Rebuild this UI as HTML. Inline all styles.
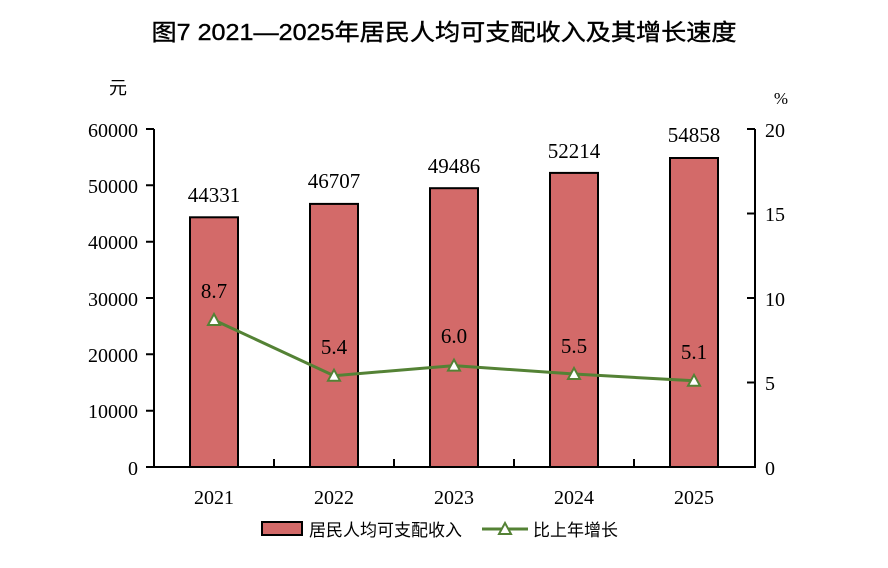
<!DOCTYPE html>
<html><head><meta charset="utf-8"><style>
body{margin:0;background:#fff}
svg text{font-family:"Liberation Serif","Noto Serif CJK SC",serif;fill:#000}
</style></head><body>
<svg width="888" height="563" xmlns="http://www.w3.org/2000/svg">
<text x="444" y="40" text-anchor="middle" font-size="23" textLength="585" lengthAdjust="spacingAndGlyphs" style="font-family:'Liberation Sans','Noto Sans CJK SC',sans-serif;stroke:#000;stroke-width:0.4">图7  2021—2025年居民人均可支配收入及其增长速度</text>
<text x="118" y="94" text-anchor="middle" font-size="18" style="font-family:'Liberation Sans','Noto Sans CJK SC',sans-serif">元</text>
<text x="781" y="104" text-anchor="middle" font-size="17">%</text>
<g fill="#d36a69" stroke="#000" stroke-width="2">
<rect x="190" y="217.3" width="48" height="249.7"/>
<rect x="310" y="203.9" width="48" height="263.1"/>
<rect x="430" y="188.2" width="48" height="278.8"/>
<rect x="550" y="172.9" width="48" height="294.1"/>
<rect x="670" y="158" width="48" height="309"/>
</g>
<g stroke="#000" stroke-width="2" fill="none">
<path d="M154 129V467H755V129"/>
<path d="M146 129H154M146 185.3H154M146 241.7H154M146 298H154M146 354.3H154M146 410.7H154M146 467H154"/>
<path d="M747 129H755M747 213.5H755M747 298H755M747 382.5H755M747 467H755"/>
<path d="M274 467V459M394 467V459M514 467V459M634 467V459"/>
</g>
<g font-size="20" text-anchor="end">
<text x="138" y="137">60000</text><text x="138" y="193">50000</text><text x="138" y="249">40000</text>
<text x="138" y="306">30000</text><text x="138" y="362">20000</text><text x="138" y="418">10000</text><text x="138" y="475">0</text>
</g>
<g font-size="20" text-anchor="start">
<text x="765" y="137">20</text><text x="765" y="221">15</text><text x="765" y="306">10</text><text x="765" y="390">5</text><text x="765" y="475">0</text>
</g>
<g font-size="20" text-anchor="middle">
<text x="214" y="504">2021</text><text x="334" y="504">2022</text><text x="454" y="504">2023</text><text x="574" y="504">2024</text><text x="694" y="504">2025</text>
</g>
<g font-size="21" text-anchor="middle">
<text x="214" y="202">44331</text><text x="334" y="188">46707</text><text x="454" y="173">49486</text><text x="574" y="158">52214</text><text x="694" y="142">54858</text>
<text x="214" y="298">8.7</text><text x="334" y="354">5.4</text><text x="454" y="343">6.0</text><text x="574" y="353">5.5</text><text x="694" y="359">5.1</text>
</g>
<polyline points="214,320 334,375.7 454,365.6 574,374 694,380.8" fill="none" stroke="#548235" stroke-width="3"/>
<g fill="#fff" stroke="#548235" stroke-width="2">
<path d="M214 314L220 325H208Z"/><path d="M334 369.7L340 380.7H328Z"/><path d="M454 359.6L460 370.6H448Z"/><path d="M574 368L580 379H568Z"/><path d="M694 374.8L700 385.8H688Z"/>
</g>
<rect x="262" y="522" width="40" height="13" fill="#d36a69" stroke="#000" stroke-width="2"/>
<text x="309" y="536" font-size="17" style="font-family:'Liberation Sans','Noto Sans CJK SC',sans-serif">居民人均可支配收入</text>
<line x1="482" y1="529" x2="528" y2="529" stroke="#548235" stroke-width="3"/>
<path d="M505 523L511 534H499Z" fill="#fff" stroke="#548235" stroke-width="2"/>
<text x="533" y="536" font-size="17" style="font-family:'Liberation Sans','Noto Sans CJK SC',sans-serif">比上年增长</text>
</svg>
</body></html>
